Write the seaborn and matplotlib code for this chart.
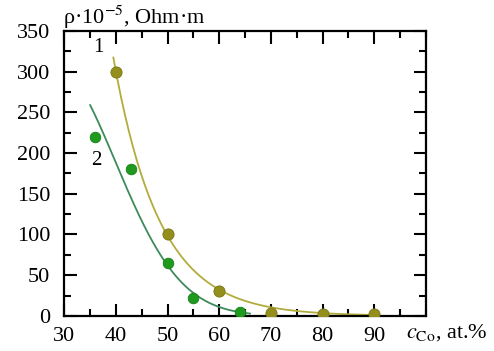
import numpy as np
import pandas as pd
import seaborn as sns
import matplotlib.pyplot as plt
from matplotlib.ticker import MultipleLocator

# data
co_1 = [40, 50, 60, 70, 80, 90]
rho_1 = [300, 100, 30, 3, 2, 2]
co_2 = [36, 43, 50, 55, 64]
rho_2 = [220, 180, 65, 22, 5]

color_1 = '#948f1c'
line_1 = '#b2ac3c'
color_2 = '#1f9a1f'
line_2 = '#3d8b5b'

sns.set_style('ticks', {'axes.edgecolor': 'black', 'text.color': 'black',
                        'xtick.color': 'black', 'ytick.color': 'black'})
plt.rcParams['font.family'] = ['Liberation Serif', 'DejaVu Serif']
plt.rcParams['mathtext.fontset'] = 'stix'

# fit curves: log-linear (weighted) for 1, log-quadratic for 2
p1 = np.polyfit(co_1, np.log(rho_1), 1, w=np.array(rho_1, float))
p2 = np.polyfit(co_2, np.log(rho_2), 2)
xs1 = np.linspace(39.5, 90, 200)
xs2 = np.linspace(35, 66, 200)
fit1 = pd.DataFrame({'x': xs1, 'y': np.exp(np.polyval(p1, xs1))})
fit2 = pd.DataFrame({'x': xs2, 'y': np.exp(np.polyval(p2, xs2))})

fig, ax = plt.subplots(figsize=(4.94, 3.51), dpi=100)
fig.subplots_adjust(left=0.13, right=0.862, bottom=0.1, top=0.912)

sns.lineplot(data=fit1, x='x', y='y', color=line_1, lw=1.3, ax=ax)
sns.lineplot(data=fit2, x='x', y='y', color=line_2, lw=1.3, ax=ax)
sns.scatterplot(x=co_1, y=rho_1, color=color_1, s=65, edgecolor='#7a7612',
                linewidth=0.6, zorder=3, ax=ax)
sns.scatterplot(x=co_2, y=rho_2, color=color_2, s=58, edgecolor='#148014',
                linewidth=0.6, zorder=3, ax=ax)

ax.text(36.7, 330, '1', fontsize=15, ha='center', va='center')
ax.text(36.3, 191, '2', fontsize=15, ha='center', va='center')

ax.set_xlim(30, 100)
ax.set_ylim(0, 350)
ax.xaxis.set_minor_locator(MultipleLocator(5))
ax.yaxis.set_major_locator(MultipleLocator(50))
ax.yaxis.set_minor_locator(MultipleLocator(25))
ax.set_xticks(range(30, 100, 10))
ax.set_xlim(30, 100)
ax.tick_params(which='both', direction='in', top=True, right=True,
               width=1.5, labelsize=16)
ax.tick_params(axis='x', pad=8)
ax.tick_params(axis='y', pad=10)
ax.tick_params(which='major', length=9)
ax.tick_params(which='minor', length=5)
for s in ax.spines.values():
    s.set_linewidth(1.6)

ax.set_xlabel('')
ax.set_ylabel('')
fig.text(0.127, 0.932, r'ρ·10$^{-5}$, Ohm·m', fontsize=16, ha='left', va='baseline')
fig.text(0.822, 0.052, r'$c_{\mathrm{Co}}$, at.%', fontsize=16, ha='left', va='center')

fig.savefig('out.png', dpi=100)
